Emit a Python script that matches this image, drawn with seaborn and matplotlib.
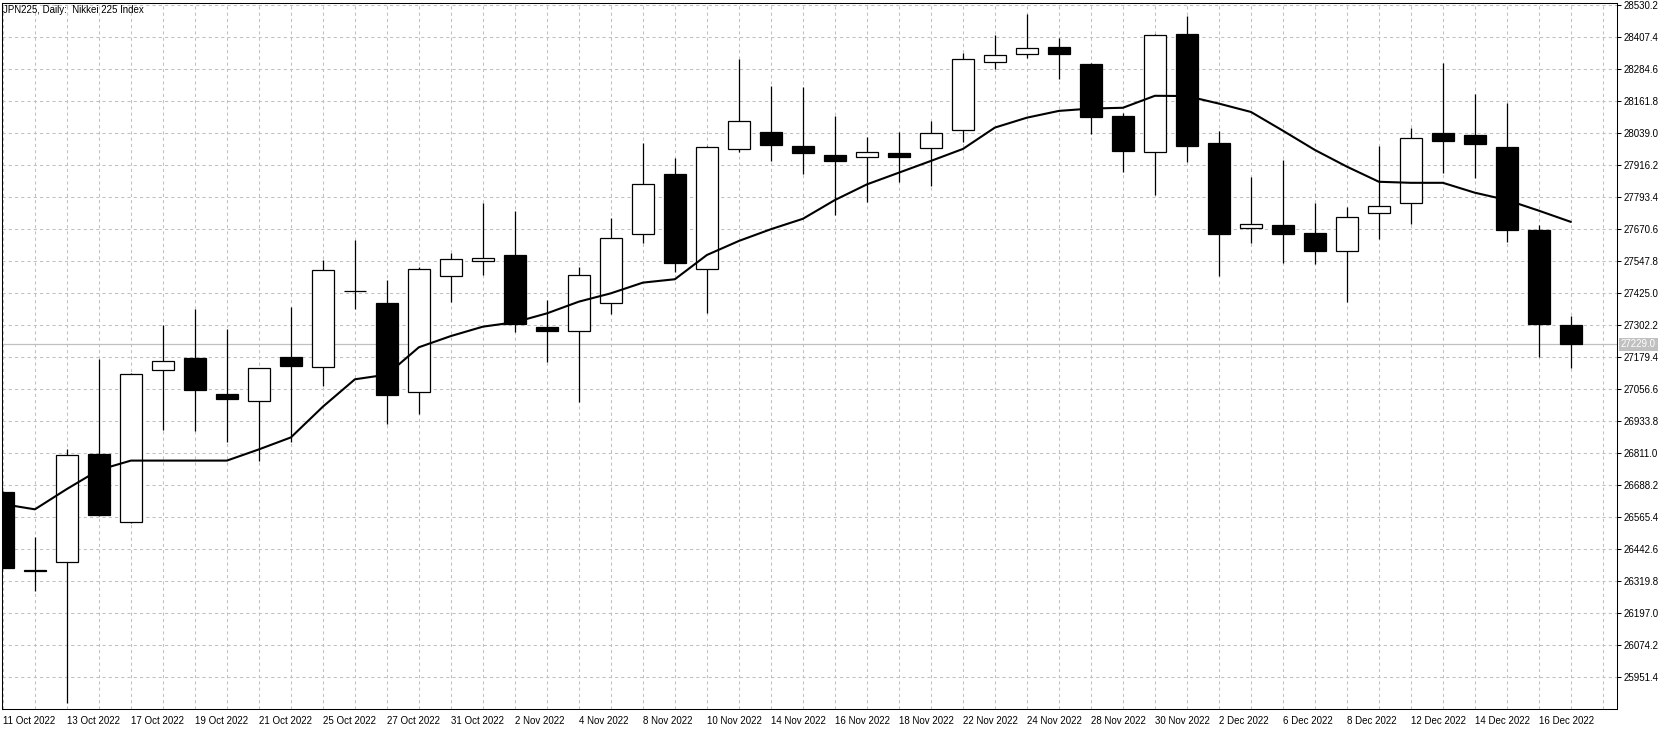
import numpy as np
import pandas as pd
import matplotlib
matplotlib.use('Agg')
import matplotlib.pyplot as plt
import matplotlib.transforms as mtransforms
import seaborn as sns

# Daily bars, JPN225
dates = ['11 Oct 2022', '12 Oct 2022', '13 Oct 2022', '14 Oct 2022', '17 Oct 2022',
         '18 Oct 2022', '19 Oct 2022', '20 Oct 2022', '21 Oct 2022', '24 Oct 2022',
         '25 Oct 2022', '26 Oct 2022', '27 Oct 2022', '28 Oct 2022', '31 Oct 2022',
         '1 Nov 2022', '2 Nov 2022', '3 Nov 2022', '4 Nov 2022', '7 Nov 2022',
         '8 Nov 2022', '9 Nov 2022', '10 Nov 2022', '11 Nov 2022', '14 Nov 2022',
         '15 Nov 2022', '16 Nov 2022', '17 Nov 2022', '18 Nov 2022', '21 Nov 2022',
         '22 Nov 2022', '23 Nov 2022', '24 Nov 2022', '25 Nov 2022', '28 Nov 2022',
         '29 Nov 2022', '30 Nov 2022', '1 Dec 2022', '2 Dec 2022', '5 Dec 2022',
         '6 Dec 2022', '7 Dec 2022', '8 Dec 2022', '9 Dec 2022', '12 Dec 2022',
         '13 Dec 2022', '14 Dec 2022', '15 Dec 2022', '16 Dec 2022', '19 Dec 2022']

opens = [26662, 26362, 26393, 26808, 26546, 27130, 27177, 27037, 27011, 27181,
         27141, 27434, 27388, 27047, 27490, 27550, 27572, 27295, 27279, 27387,
         27651, 27883, 27517, 27980, 28043, 27990, 27956, 27947, 27963, 27981,
         28051, 28312, 28342, 28370, 28305, 28105, 27966, 28420, 28002, 27677,
         27687, 27658, 27586, 27732, 27770, 28040, 28033, 27988, 27669, 27302]
highs = [26666, 26491, 26828, 27173, 27118, 27302, 27365, 27287, 27140, 27372,
         27553, 27630, 27476, 27525, 27579, 27773, 27742, 27398, 27527, 27713,
         28001, 27943, 27991, 28324, 28221, 28217, 28105, 28025, 28043, 28086,
         28347, 28416, 28497, 28406, 28310, 28118, 28420, 28489, 28048, 27873,
         27937, 27773, 27756, 27991, 28059, 28308, 28190, 28155, 27687, 27338]
lows = [26370, 26284, 25852, 26572, 26542, 26900, 26898, 26856, 26783, 26853,
        27069, 27365, 26922, 26963, 27392, 27496, 27278, 27160, 27009, 27346,
        27618, 27507, 27351, 27967, 27934, 27884, 27727, 27774, 27852, 27838,
        28006, 28285, 28329, 28249, 28038, 27891, 27802, 27929, 27493, 27617,
        27540, 27539, 27392, 27635, 27692, 27887, 27866, 27621, 27182, 27140]
closes = [26372, 26358, 26803, 26575, 27114, 27164, 27055, 27021, 27137, 27147,
          27513, 27432, 27035, 27517, 27556, 27559, 27308, 27282, 27495, 27636,
          27843, 27542, 27985, 28085, 27995, 27965, 27934, 27966, 27949, 28039,
          28323, 28340, 28365, 28345, 28103, 27972, 28416, 27991, 27654, 27690,
          27654, 27589, 27718, 27760, 28021, 28011, 27999, 27667, 27308, 27229]

# moving average line as drawn on the chart
ma = [26616, 26596, 26674, 26747, 26783, 26783, 26783, 26783, 26826, 26872,
      26990, 27095, 27113, 27218, 27261, 27297, 27314, 27348, 27393, 27425,
      27466, 27479, 27572, 27626, 27671, 27711, 27783, 27843, 27888, 27933,
      27979, 28061, 28099, 28125, 28134, 28137, 28183, 28182, 28153, 28121,
      28049, 27975, 27911, 27853, 27849, 27849, 27811, 27783, 27742, 27699]

ytick_labels = ['28530.2', '28407.4', '28284.6', '28161.8', '28039.0', '27916.2',
                '27793.4', '27670.6', '27547.8', '27425.0', '27302.2', '27179.4',
                '27056.6', '26933.8', '26811.0', '26688.2', '26565.4', '26442.6',
                '26319.8', '26197.0', '26074.2', '25951.4']
last_price = 27229.0
title = 'JPN225, Daily:  Nikkei 225 Index'

sns.set_style('white')
plt.rcParams['font.family'] = ['Liberation Sans', 'DejaVu Sans']

df = pd.DataFrame({'bar': np.arange(len(dates)), 'open': opens, 'high': highs,
                   'low': lows, 'close': closes, 'ma': ma})
up = df['close'] >= df['open']

fig = plt.figure(figsize=(16.7, 7.3), dpi=100)
ax = fig.add_axes([2 / 1670, 20.7 / 730, 1615 / 1670, 706.6 / 730])

# candles: wicks then bodies
ax.vlines(df['bar'], df['low'], df['high'], colors='black', lw=0.9, zorder=3)
ax.bar(df['bar'], (df['close'] - df['open']).abs(),
       bottom=df[['open', 'close']].min(axis=1), width=0.69,
       color=np.where(up, 'white', 'black'), edgecolor='black', lw=0.9, zorder=4)

# moving average
sns.lineplot(data=df, x='bar', y='ma', color='black', lw=1.5, ax=ax, zorder=5)

# last price line
ax.axhline(last_price, color='#c0c0c0', lw=0.9, zorder=1.5)

ax.set_xlim(-0.028, 50.44)
ax.set_ylim(25828.6, 28540.2)

# ticks and grid
yt = [float(v) for v in ytick_labels]
ax.yaxis.tick_right()
ax.set_yticks(yt, ytick_labels)
ax.set_xticks(df['bar'][::2], dates[::2])
ax.set_xticks(np.arange(len(dates) + 1), minor=True)
for lbl in ax.get_xticklabels():
    lbl.set_ha('left')
ax.tick_params(axis='both', which='major', direction='out', length=3, width=0.75,
               pad=1.5, labelsize=7, colors='black')
ax.tick_params(axis='x', which='minor', length=0)
ax.set_axisbelow(True)
ax.grid(True, which='both', axis='x', color='#c0c0c0', ls=(0, (3, 3)), lw=0.75)
ax.grid(True, which='major', axis='y', color='#c0c0c0', ls=(0, (3, 3)), lw=0.75)
ax.set_xlabel('')
ax.set_ylabel('')
for s in ax.spines.values():
    s.set_visible(True)
    s.set_color('black')
    s.set_linewidth(0.75)

# title and price tag
ax.text(0.0006, 0.9897, title, transform=ax.transAxes, fontsize=7,
        ha='left', va='center', color='black')
trans = mtransforms.blended_transform_factory(ax.transAxes, ax.transData)
ax.text(1 + 4 / 1615, last_price, f'{last_price:.1f}', transform=trans,
        color='white', fontsize=7, ha='left', va='center', clip_on=False,
        bbox=dict(facecolor='#c0c0c0', edgecolor='none', pad=1.2), zorder=10)

fig.savefig('out.png', dpi=100)
